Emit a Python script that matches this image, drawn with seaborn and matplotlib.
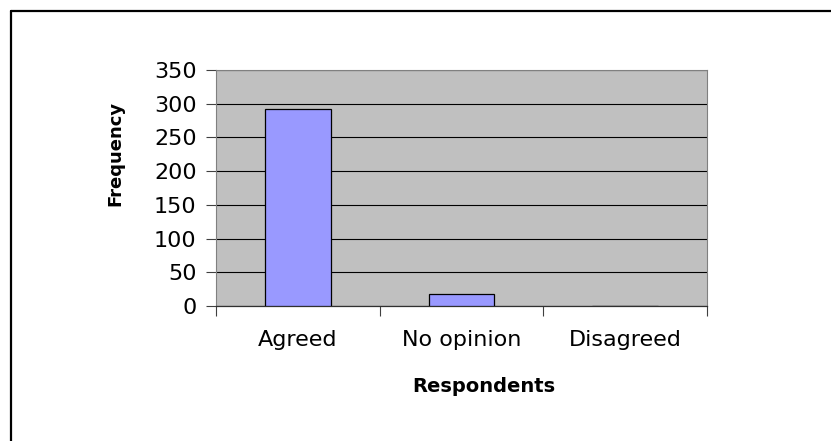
import matplotlib
matplotlib.use("Agg")
import matplotlib.pyplot as plt
import seaborn as sns
import pandas as pd
from matplotlib.lines import Line2D
from matplotlib.ticker import FixedLocator

# ---------------------------------------
# Data
# ---------------------------------------
categories = ["Agreed", "No opinion", "Disagreed"]
frequency = [292, 18, 0]
y_ticks = [0, 50, 100, 150, 200, 250, 300, 350]

df = pd.DataFrame({"Respondents": categories, "Frequency": frequency})

# ---------------------------------------
# Figure
# ---------------------------------------
sns.set_style("white")
plt.rcParams["font.family"] = ["DejaVu Sans"]
plt.rcParams["text.color"] = "black"
plt.rcParams["axes.labelcolor"] = "black"
plt.rcParams["xtick.color"] = "black"
plt.rcParams["ytick.color"] = "black"

fig = plt.figure(figsize=(8.31, 4.41), dpi=100)
ax = fig.add_axes([216 / 831, 1 - 306 / 441, (707 - 216) / 831, (306 - 70) / 441])
ax.set_facecolor("#C0C0C0")

sns.barplot(data=df, x="Respondents", y="Frequency", color="#9999FF",
            saturation=1, width=0.4, edgecolor="black", linewidth=0.9, ax=ax, zorder=3)

ax.set_ylim(0, 350)
ax.set_xlim(-0.5, 2.5)
ax.set_yticks(y_ticks)
ax.yaxis.grid(True, color="black", linewidth=0.8)
ax.set_axisbelow(True)

# category-boundary ticks on x axis
ax.xaxis.set_minor_locator(FixedLocator([-0.5, 0.5, 1.5, 2.5]))
ax.tick_params(axis="x", which="minor", direction="out", length=7, width=0.8,
               color="#404040", bottom=True)
ax.tick_params(axis="x", which="major", length=0, pad=17, labelsize=16)
ax.tick_params(axis="y", which="major", direction="out", length=7, width=0.8,
               color="#404040", left=True, pad=7, labelsize=16)

for side in ["left", "right", "top"]:
    ax.spines[side].set_color("#808080")
    ax.spines[side].set_linewidth(0.8)
ax.spines["bottom"].set_color("#303030")
ax.spines["bottom"].set_linewidth(0.9)

ax.set_xlabel("Respondents", fontsize=14, fontweight="bold")
ax.set_ylabel("Frequency", fontsize=13, fontweight="bold")
ax.xaxis.set_label_coords((484 - 216) / 491, (306 - 387) / 236)
ax.xaxis.label.set_va("center")
ax.yaxis.set_label_coords((115 - 216) / 491, (306 - 153) / 236)
ax.yaxis.label.set_va("center")

# outer frame (top and left edges visible)
fig.add_artist(Line2D([10.5 / 831, 10.5 / 831], [0, 1 - 10.5 / 441],
                      transform=fig.transFigure, color="black", linewidth=1.6))
fig.add_artist(Line2D([10.5 / 831, 1], [1 - 10.5 / 441, 1 - 10.5 / 441],
                      transform=fig.transFigure, color="black", linewidth=1.6))

fig.savefig("out.png", dpi=100)
